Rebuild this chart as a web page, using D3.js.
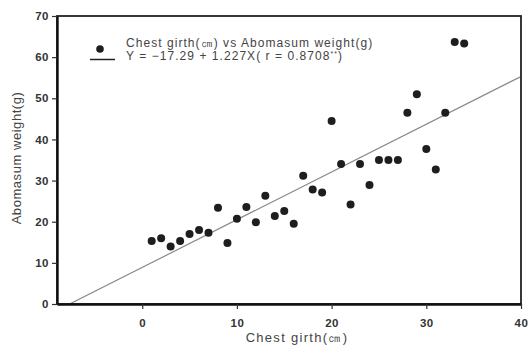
<!DOCTYPE html>
<html>
<head>
<meta charset="utf-8">
<style>
  body { margin: 0; background: #fff; }
  svg text { font-family: "Liberation Sans", Arial, sans-serif; }
</style>
</head>
<body>
<div id="container"></div>
<script src="https://cdn.jsdelivr.net/npm/d3@7/dist/d3.min.js"></script>
<script>
    // Data
    let girth = [1, 2, 3, 4, 5, 6, 7, 8, 9, 10, 11, 12, 13, 14, 15, 16, 17,
                 18, 19, 20, 21, 22, 23, 24, 25, 26, 27, 28, 29, 30, 31, 32, 33, 34];
    let weight = [15.3, 16.0, 14.0, 15.3, 17.0, 18.0, 17.3, 23.4, 14.8, 20.7, 23.6, 19.9, 26.3,
                  21.4, 22.6, 19.5, 31.2, 27.8, 27.1, 44.5, 34.0, 24.2, 34.0, 28.9, 35.0, 35.0,
                  35.0, 46.5, 51.0, 37.7, 32.7, 46.5, 63.7, 63.3];
    let xTicks = [0, 10, 20, 30, 40];
    let yTicks = [0, 10, 20, 30, 40, 50, 60, 70];
    // fitted line as drawn on the plot (intercept, slope)
    let lineFit = [8.9, 1.16];
    let legendLabels = ["Chest girth(㎝) vs Abomasum weight(g)", "Y = −17.29 + 1.227X( r = 0.8708"];

    // Set up SVG
    let margin = { top: 16, right: 7, bottom: 43, left: 57 };
    let width = 528 - margin.left - margin.right;
    let height = 347 - margin.top - margin.bottom;

    let svg = d3.select("#container")
        .append("svg")
        .attr("width", 528)
        .attr("height", 347)
        .append("g")
        .attr("transform", `translate(${margin.left}, ${margin.top})`);

    let x = d3.scaleLinear().domain([-9, 40]).range([0, width]);
    let y = d3.scaleLinear().domain([0, 70]).range([height, 0]);

    svg.append("clipPath").attr("id", "clip")
        .append("rect").attr("width", width).attr("height", height);

    // Regression line
    let x0 = -lineFit[0] / lineFit[1];
    svg.append("line")
        .attr("clip-path", "url(#clip)")
        .attr("x1", x(x0)).attr("y1", y(0))
        .attr("x2", x(40)).attr("y2", y(lineFit[0] + lineFit[1] * 40))
        .attr("stroke", "#8a8a8a")
        .attr("stroke-width", 1.2);

    // Points
    svg.selectAll("circle.pt")
        .data(girth.map((g, i) => ({ g, w: weight[i] })))
        .enter()
        .append("circle")
        .attr("class", "pt")
        .attr("cx", (d) => x(d.g))
        .attr("cy", (d) => y(d.w))
        .attr("r", 4)
        .attr("fill", "#1e1e1e");

    // Frame
    svg.append("rect")
        .attr("width", width).attr("height", height)
        .attr("fill", "none").attr("stroke", "#222").attr("stroke-width", 1.8);

    // Axes
    let xAxis = svg.append("g")
        .attr("transform", `translate(0, ${height})`)
        .call(d3.axisBottom(x).tickValues(xTicks).tickSize(5).tickSizeOuter(0));
    let yAxis = svg.append("g")
        .call(d3.axisLeft(y).tickValues(yTicks).tickSize(5).tickSizeOuter(0));
    [xAxis, yAxis].forEach((a) => {
        a.select(".domain").attr("stroke", "#111").attr("stroke-width", 2.4);
        a.selectAll(".tick line").attr("stroke", "#333").attr("stroke-width", 1.2);
        a.selectAll(".tick text")
            .attr("fill", "#333")
            .style("font-size", "11.5px")
            .style("font-weight", "bold")
            .style("letter-spacing", "0.5px");
    });
    xAxis.selectAll(".tick text").attr("dy", "1.3em");
    yAxis.selectAll(".tick text").attr("x", -8);

    // Axis titles
    svg.append("text")
        .attr("x", width / 2 + 8)
        .attr("y", height + 38)
        .attr("text-anchor", "middle")
        .attr("fill", "#444")
        .style("font-size", "13px")
        .style("letter-spacing", "1.3px")
        .text("Chest girth(㎝)");

    svg.append("text")
        .attr("transform", `translate(${-36}, ${height / 2 - 2}) rotate(-90)`)
        .attr("text-anchor", "middle")
        .attr("fill", "#444")
        .style("font-size", "13px")
        .style("letter-spacing", "0.55px")
        .text("Abomasum weight(g)");

    // Legend
    let legend = svg.append("g").attr("transform", "translate(33, 27)");
    legend.append("circle").attr("cx", 10).attr("cy", 6).attr("r", 3.8).attr("fill", "#1e1e1e");
    legend.append("line")
        .attr("x1", 0).attr("x2", 25).attr("y1", 16.5).attr("y2", 16.5)
        .attr("stroke", "#222").attr("stroke-width", 1.5);
    legend.append("text")
        .attr("x", 36).attr("y", 4)
        .attr("fill", "#444")
        .style("font-size", "12px")
        .style("letter-spacing", "1.05px")
        .text(legendLabels[0]);
    let eq = legend.append("text")
        .attr("x", 36).attr("y", 17)
        .attr("fill", "#444")
        .style("font-size", "12px")
        .style("letter-spacing", "1.05px")
        .text(legendLabels[1]);
    eq.append("tspan").attr("dy", -4).style("font-size", "7px").text("**");
    eq.append("tspan").attr("dy", 4).text(")");
</script>
</body>
</html>
